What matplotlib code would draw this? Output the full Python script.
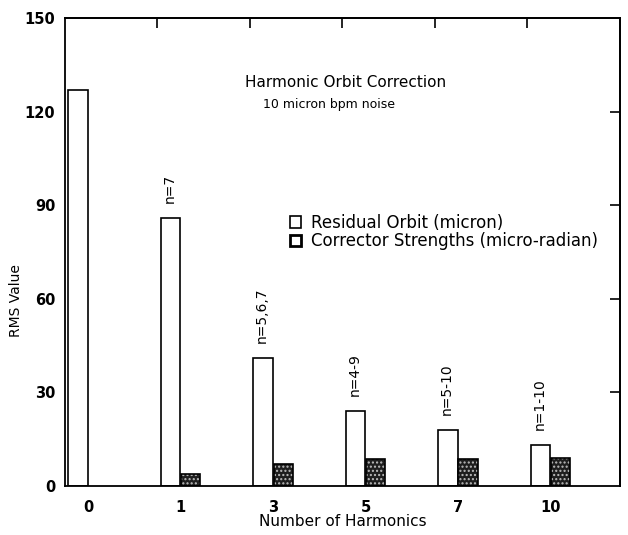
import numpy as np
import matplotlib.pyplot as plt
from matplotlib.patches import Patch

plt.rcParams['font.family'] = ['DejaVu Sans']

# data
harmonics = ['0', '1', '3', '5', '7', '10']
residual_orbit = [127, 86, 41, 24, 18, 13]        # micron
corrector_strength = [0, 4, 7, 8.5, 8.5, 9]       # micro-radian
mode_labels = ['', 'n=7', 'n=5,6,7', 'n=4-9', 'n=5-10', 'n=1-10']

fig = plt.figure(figsize=(6.28, 5.35), dpi=100)
ax = fig.add_axes([0.1035, 0.0916, 0.8835, 0.8744])

idx = np.arange(len(harmonics))
w = 0.21

# residual orbit: open bars
ax.bar(idx + 0.14, residual_orbit, width=w, facecolor='white',
       edgecolor='black', linewidth=1.2, zorder=2)

# corrector strengths: dark speckled bars (skip the zero one)
cs = np.array(corrector_strength)
m = cs > 0
ax.bar(idx[m] + 0.36, cs[m], width=w, facecolor='#1e1e1e',
       edgecolor='#bdbdbd', hatch='....', linewidth=0, zorder=2)
ax.bar(idx[m] + 0.36, cs[m], width=w, fill=False,
       edgecolor='black', linewidth=1.2, zorder=3)

# mode annotations above the residual bars
for i, (v, lab) in enumerate(zip(residual_orbit, mode_labels)):
    if lab:
        ax.annotate(lab, (i + 0.13, v), xytext=(0, 11), textcoords='offset points',
                    rotation=90, ha='center', va='bottom', fontsize=10)

ax.set_xlim(0, 6)
ax.set_ylim(0, 150)
ax.set_xticks(idx + 0.25)
ax.set_xticklabels(harmonics, fontsize=10.5, fontweight='bold')
ax.set_yticks([0, 30, 60, 90, 120, 150])
ax.set_yticklabels(['0', '30', '60', '90', '120', '150'], fontsize=10.5, fontweight='bold')
ax.tick_params(axis='x', length=0, pad=10)
ax.tick_params(axis='y', length=0, pad=7)

# inward ticks on top and right, no labels
top = ax.secondary_xaxis('top')
top.set_xticks([1, 2, 3, 4, 5])
top.tick_params(direction='in', length=7, width=1.2, labeltop=False)
right = ax.secondary_yaxis('right')
right.set_yticks([30, 60, 90, 120])
right.tick_params(direction='in', length=7, width=1.2, labelright=False)

for sp in list(ax.spines.values()) + [top.spines['top'], right.spines['right']]:
    sp.set_linewidth(1.3)

ax.set_xlabel('Number of Harmonics', fontsize=11)
ax.xaxis.set_label_coords(0.5, -0.06)
ax.set_ylabel('RMS Value', fontsize=10)
ax.yaxis.set_label_coords(-0.075, 0.396)

ax.text(0.325, 0.863, 'Harmonic Orbit Correction', transform=ax.transAxes,
        fontsize=11, ha='left', va='center')
ax.text(0.357, 0.815, '10 micron bpm noise', transform=ax.transAxes,
        fontsize=9, ha='left', va='center')

handles = [Patch(facecolor='white', edgecolor='black', linewidth=1.2),
           Patch(facecolor='white', edgecolor='black', linewidth=2.0)]
ax.legend(handles, ['Residual Orbit (micron)', 'Corrector Strengths (micro-radian)'],
          loc='upper left', bbox_to_anchor=(0.39, 0.6), frameon=False,
          fontsize=12, handlelength=0.7, handleheight=0.7, handletextpad=0.6,
          labelspacing=0.05, borderpad=0)

fig.savefig('out.png', dpi=100)
